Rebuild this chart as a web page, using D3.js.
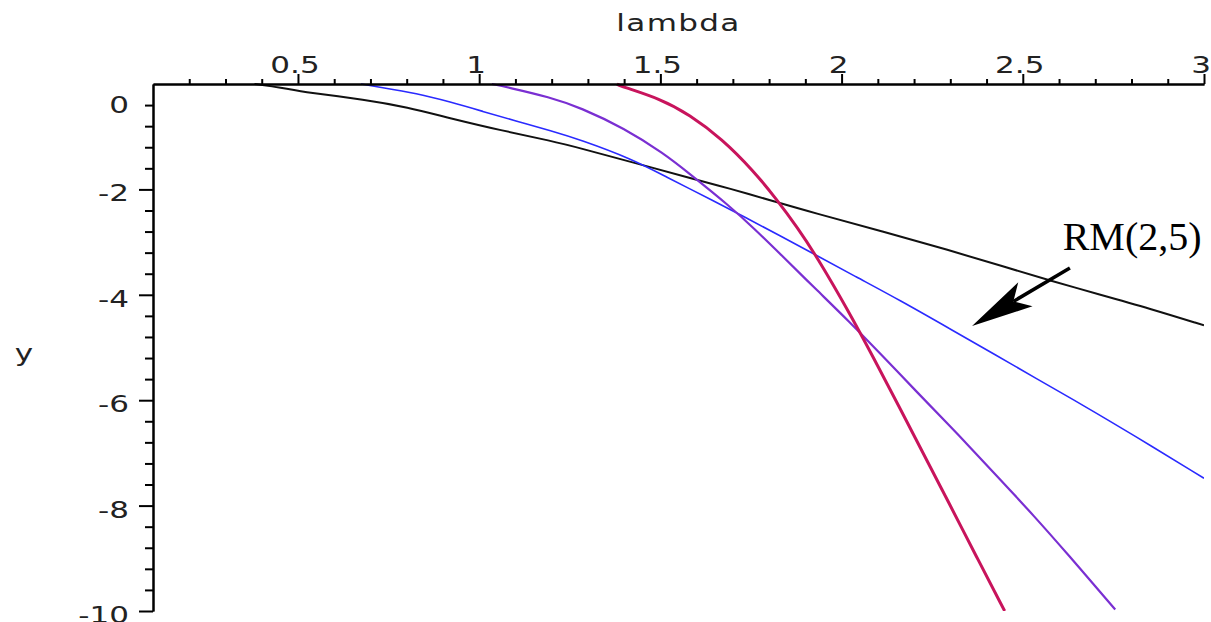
<!DOCTYPE html>
<html>
<head>
<meta charset="utf-8">
<script src="https://cdn.jsdelivr.net/npm/d3@7"></script>
<style>
  body { margin: 0; background: #fff; }
  svg { display: block; }
</style>
</head>
<body>
<svg id="chart" width="1211" height="622"></svg>
<script>
const width = 1211;
const height = 622;

// values (lambda, y)
const blackLambda = [0.38, 0.42, 0.51, 0.69, 0.80, 0.92, 1.06, 1.20, 1.28, 1.42, 1.58, 1.69, 1.82, 1.92, 2.11, 2.30, 2.44, 2.58, 2.71, 2.85, 3.0];
const blackY      = [0, -0.03, -0.15, -0.30, -0.44, -0.65, -0.88, -1.08, -1.22, -1.48, -1.78, -1.98, -2.24, -2.44, -2.79, -3.16, -3.45, -3.74, -3.99, -4.26, -4.58];

const blueLambda = [0.674, 0.726, 0.828, 0.92, 1.01, 1.10, 1.20, 1.28, 1.42, 1.51, 1.65, 1.74, 1.83, 1.92, 2.04, 2.16, 2.30, 2.43, 2.53, 2.67, 2.80, 3.0];
const blueY      = [0, -0.06, -0.18, -0.34, -0.52, -0.70, -0.89, -1.06, -1.42, -1.74, -2.23, -2.55, -2.88, -3.21, -3.66, -4.10, -4.65, -5.16, -5.56, -6.11, -6.64, -7.48];

const purpleLambda = [1.035, 1.077, 1.195, 1.28, 1.40, 1.51, 1.58, 1.69, 1.76, 1.83, 1.93, 2.02, 2.11, 2.21, 2.30, 2.35, 2.44, 2.53, 2.62, 2.755];
const purpleY      = [0, -0.06, -0.25, -0.45, -0.84, -1.32, -1.70, -2.31, -2.75, -3.22, -3.90, -4.50, -5.14, -5.86, -6.50, -6.86, -7.52, -8.19, -8.89, -9.97];

const crimsonLambda = [1.38, 1.39, 1.50, 1.58, 1.67, 1.756, 1.82, 1.88, 1.93, 2.02, 2.09, 2.16, 2.22, 2.30, 2.37, 2.45];
const crimsonY      = [0, -0.04, -0.28, -0.58, -1.04, -1.64, -2.18, -2.74, -3.26, -4.32, -5.22, -6.14, -6.94, -8.00, -8.94, -10];

const xTickLabels = [0.5, 1, 1.5, 2, 2.5, 3];
const yTickLabels = [0, -2, -4, -6, -8, -10];

// annotation: label and arrow, in data units
const noteText = "RM(2,5)";
const noteAt = [2.61, -3.15];
const arrowFrom = [2.63, -3.49];
const arrowTo = [2.36, -4.59];

const x = d3.scaleLinear().domain([0.1, 3]).range([153, 1204]);
const y = d3.scaleLinear().domain([-10, 0]).range([611, 84]);

const svg = d3.select("#chart");
svg.append("rect").attr("width", width).attr("height", height).attr("fill", "#fff");

const tickFont = "DejaVu Sans, sans-serif";
const stretch = 1.35;

// clip curves to the plot box
svg.append("clipPath").attr("id", "plotclip")
  .append("rect")
    .attr("x", x(0.1)).attr("y", y(0) - 2)
    .attr("width", x(3) - x(0.1)).attr("height", y(-10) - y(0) + 2);

const series = [
  { lx: blackLambda, ly: blackY, color: "#111111", w: 2 },
  { lx: blueLambda, ly: blueY, color: "#2a2aff", w: 1.6 },
  { lx: purpleLambda, ly: purpleY, color: "#7a2fd2", w: 2.2 },
  { lx: crimsonLambda, ly: crimsonY, color: "#c8145c", w: 3 }
];

const line = d3.line()
  .x(d => x(d[0]))
  .y(d => y(d[1]))
  .curve(d3.curveBasis);

svg.append("g").attr("clip-path", "url(#plotclip)")
  .selectAll("path")
  .data(series)
  .join("path")
    .attr("fill", "none")
    .attr("stroke", d => d.color)
    .attr("stroke-width", d => d.w)
    .attr("d", d => line(d.lx.map((v, i) => [v, d.ly[i]])));

// x axis on top at y = 0
const xMinor = d3.range(2, 30).map(i => i / 10).filter(v => Math.abs(v * 2 - Math.round(v * 2)) > 1e-6);
svg.append("g")
  .attr("transform", `translate(0,${y(0)})`)
  .call(d3.axisTop(x).tickValues(xMinor).tickSize(5).tickSizeOuter(0).tickFormat(""))
  .call(g => g.selectAll("line,path").attr("stroke", "#000").attr("stroke-width", 2));
svg.append("g")
  .attr("transform", `translate(0,${y(0)})`)
  .call(d3.axisTop(x).tickValues(xTickLabels).tickSize(10).tickSizeOuter(0).tickFormat(""))
  .call(g => g.selectAll("line,path").attr("stroke", "#000").attr("stroke-width", 2));

// y axis on the left
const yMinor = d3.range(1, 25).map(i => -i * 0.4).filter(v => Math.abs(v / 2 - Math.round(v / 2)) > 1e-6);
svg.append("g")
  .attr("transform", `translate(${x(0.1)},0)`)
  .call(d3.axisLeft(y).tickValues(yMinor).tickSize(8).tickSizeOuter(0).tickFormat(""))
  .call(g => g.selectAll("line,path").attr("stroke", "#000").attr("stroke-width", 2));
svg.append("g")
  .attr("transform", `translate(${x(0.1)},0)`)
  .call(d3.axisLeft(y).tickValues(yTickLabels.filter(v => v !== 0)).tickSize(14).tickSizeOuter(0).tickFormat(""))
  .call(g => g.selectAll("line,path").attr("stroke", "#000").attr("stroke-width", 2));

// tick labels (wide pixel-style font, stretched horizontally)
svg.append("g")
  .selectAll("text")
  .data(xTickLabels)
  .join("text")
    .attr("transform", d => `translate(${x(d) - 3},${y(0) - 11}) scale(${stretch},1)`)
    .attr("text-anchor", "middle")
    .attr("font-family", tickFont)
    .attr("font-size", 23)
    .attr("fill", "#222")
    .text(d => d);

svg.append("g")
  .selectAll("text")
  .data(yTickLabels)
  .join("text")
    // the 0 label sits a little below the x axis, as in the original
    .attr("transform", d => `translate(${x(0.1) - 24},${(d === 0 ? y(-0.33) : y(d)) + 12}) scale(${stretch},1)`)
    .attr("text-anchor", "end")
    .attr("font-family", tickFont)
    .attr("font-size", 23)
    .attr("fill", "#222")
    .text(d => d === 0 ? "0" : "-" + Math.abs(d));

// axis titles
svg.append("text")
  .attr("transform", `translate(${(x(0.1) + x(3)) / 2},31) scale(${stretch},1)`)
  .attr("text-anchor", "middle")
  .attr("font-family", tickFont)
  .attr("font-size", 23)
  .attr("letter-spacing", 1)
  .attr("fill", "#222")
  .text("lambda");

svg.append("text")
  .attr("transform", `translate(24,361) scale(${stretch},1)`)
  .attr("text-anchor", "middle")
  .attr("font-family", tickFont)
  .attr("font-size", 23)
  .attr("fill", "#222")
  .text("y");

// annotation
svg.append("text")
  .attr("x", x(noteAt[0]))
  .attr("y", y(noteAt[1]))
  .attr("font-family", "Liberation Serif, Times New Roman, serif")
  .attr("font-size", 40)
  .attr("fill", "#000")
  .text(noteText);

const p0 = [x(arrowFrom[0]), y(arrowFrom[1])];
const p1 = [x(arrowTo[0]), y(arrowTo[1])];
const ang = Math.atan2(p1[1] - p0[1], p1[0] - p0[0]);
const headLen = 62, headHalf = 14, notch = 48;
const rot = (dx, dy) => [p1[0] + dx * Math.cos(ang) - dy * Math.sin(ang), p1[1] + dx * Math.sin(ang) + dy * Math.cos(ang)];
const shaftEnd = rot(-notch, 0);

svg.append("line")
  .attr("x1", p0[0]).attr("y1", p0[1])
  .attr("x2", shaftEnd[0]).attr("y2", shaftEnd[1])
  .attr("stroke", "#000").attr("stroke-width", 3.5);

svg.append("path")
  .attr("d", d3.line()([p1, rot(-headLen, -headHalf), shaftEnd, rot(-headLen, headHalf)]) + "Z")
  .attr("fill", "#000");
</script>
</body>
</html>
